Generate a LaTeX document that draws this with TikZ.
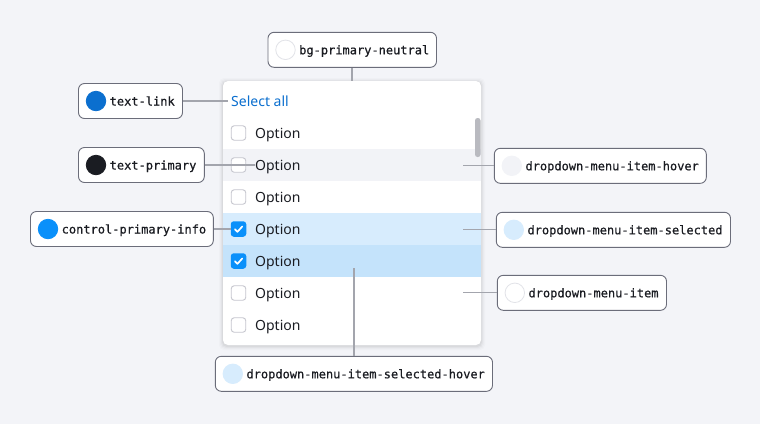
\documentclass[tikz,border=0pt]{standalone}
\usepackage{fontspec}
\setmainfont{Noto Sans}
\newfontfamily\labfont[FakeBold=0.6]{DejaVu Sans Mono}
\definecolor{bgc}{HTML}{F3F4F8}
\definecolor{boxc}{HTML}{6B6D7A}
\definecolor{linec}{HTML}{A3A5AD}
\definecolor{inkc}{HTML}{1A1C22}
\definecolor{linkc}{HTML}{0B6FCF}
\definecolor{infoc}{HTML}{0A90FA}
\definecolor{hovc}{HTML}{F2F3F7}
\definecolor{selc}{HTML}{D7ECFD}
\definecolor{selhc}{HTML}{C4E3FB}
\definecolor{cbc}{HTML}{C5C6CE}
\definecolor{ringc}{HTML}{E2E3E8}
\definecolor{scrollc}{HTML}{B9BAC0}
\newcommand\lbox[7]{%
  \pgfmathsetmacro\lw{#3-#2}%
  \pgfmathsetmacro\lcx{(#2+#3)/2}%
  \node[lbl, minimum width=\lw pt] (#1) at (\lcx,#4) {};
  \node[dotc, fill=#5, draw=#6] (#1-dot) at (#2+17.5,#4) {};
  \node[ltext] (#1-txt) at (#2+31,#4+4.5) {#7};
}
\begin{document}
\begin{tikzpicture}[x=1pt,y=-1pt,
  lbl/.style={draw=boxc, fill=white, rounded corners=6pt, line width=0.9pt, minimum height=35pt, inner sep=0pt},
  dotc/.style={circle, minimum size=19.5pt, inner sep=0pt, line width=0.8pt},
  ltext/.style={anchor=base west, inner sep=0pt, font=\labfont\fontsize{12}{14}\selectfont, text=inkc},
  otext/.style={anchor=base west, inner sep=0pt, font=\fontsize{14}{16}\selectfont, text=inkc},
  cbx/.style={draw=cbc, fill=white, rounded corners=3pt, line width=0.9pt, minimum size=14.5pt, inner sep=0pt},
  cbon/.style={fill=infoc, rounded corners=3pt, minimum size=15.5pt, inner sep=0pt},
  conn/.style={draw=linec, line width=1.3pt}]
\useasboundingbox[fill=bgc] (0,0) rectangle (760,424);
% panel shadow
\foreach \i/\o in {4/0.015,3/0.02,2/0.03,1/0.04}{
  \fill[black, opacity=\o, rounded corners=5pt] (223-\i,81-\i+1) rectangle (481+\i,345+\i+1);
}
\node[fill=white, rounded corners=5pt, minimum width=258pt, minimum height=264pt, inner sep=0pt] (panel) at (352,213) {};
% row bands
\fill[hovc] (223,149) rectangle (481,181);
\fill[selc] (223,213) rectangle (481,245);
\fill[selhc] (223,245) rectangle (481,277);
% scrollbar
\fill[scrollc, rounded corners=2.5pt] (475,118) rectangle (480.5,157);
% rows
\node[anchor=base west, inner sep=0pt, font=\fontsize{14}{16}\selectfont, text=linkc] (selall) at (231,106.3) {Select all};
\foreach \n/\cy in {r1/133,r2/165,r3/197,r6/293,r7/325}{
  \node[cbx] (\n-cb) at (238.5,\cy) {};
  \node[otext] (\n-t) at (255,\cy+5.3) {Option};
}
\foreach \n/\cy in {r4/229,r5/261}{
  \node[cbon] (\n-cb) at (238.5,\cy) {};
  \draw[white, line width=1.7pt, line cap=round, line join=round] (\n-cb.center) ++(-3.6,0.2) -- ++(2.6,2.6) -- ++(4.8,-5.4);
  \node[otext] (\n-t) at (255,\cy+5.3) {Option};
}
% labels
\lbox{bgp}{268}{436.5}{49.8}{white}{ringc}{bg-primary-neutral}
\lbox{tlink}{78.5}{182.5}{101}{linkc}{linkc}{text-link}
\lbox{tprim}{78.5}{204.3}{165}{inkc}{inkc}{text-primary}
\lbox{cpi}{30.5}{213.3}{229}{infoc}{infoc}{control-primary-info}
\lbox{dmih}{494.3}{706.3}{165.8}{hovc}{hovc}{dropdown-menu-item-hover}
\lbox{dmis}{496.3}{730.5}{229.8}{selc}{selc}{dropdown-menu-item-selected}
\lbox{dmi}{497.3}{666.5}{292.8}{white}{ringc}{dropdown-menu-item}
\lbox{dmish}{215.3}{492.5}{373.8}{selc}{selc}{dropdown-menu-item-selected-hover}
% connectors
\coordinate (pt-top) at (352,81);
\coordinate (pt-link) at (228,101);
\coordinate (pt-prim) at (255,165);
\coordinate (pt-cpi) at (231,229);
\coordinate (pt-hov) at (463,165.8);
\coordinate (pt-sel) at (463,229.8);
\coordinate (pt-item) at (463,292.8);
\coordinate (pt-selh) at (354,268);
\draw[conn] (bgp.south -| pt-top) -- (pt-top);
\draw[conn] (tlink.east) -- (pt-link);
\draw[conn] (tprim.east) -- (pt-prim);
\draw[conn] (cpi.east) -- (pt-cpi);
\draw[conn] (dmih.west) -- (pt-hov);
\draw[conn] (dmis.west) -- (pt-sel);
\draw[conn] (dmi.west) -- (pt-item);
\draw[conn] (dmish.north -| pt-selh) -- (pt-selh);
\end{tikzpicture}
\end{document}
